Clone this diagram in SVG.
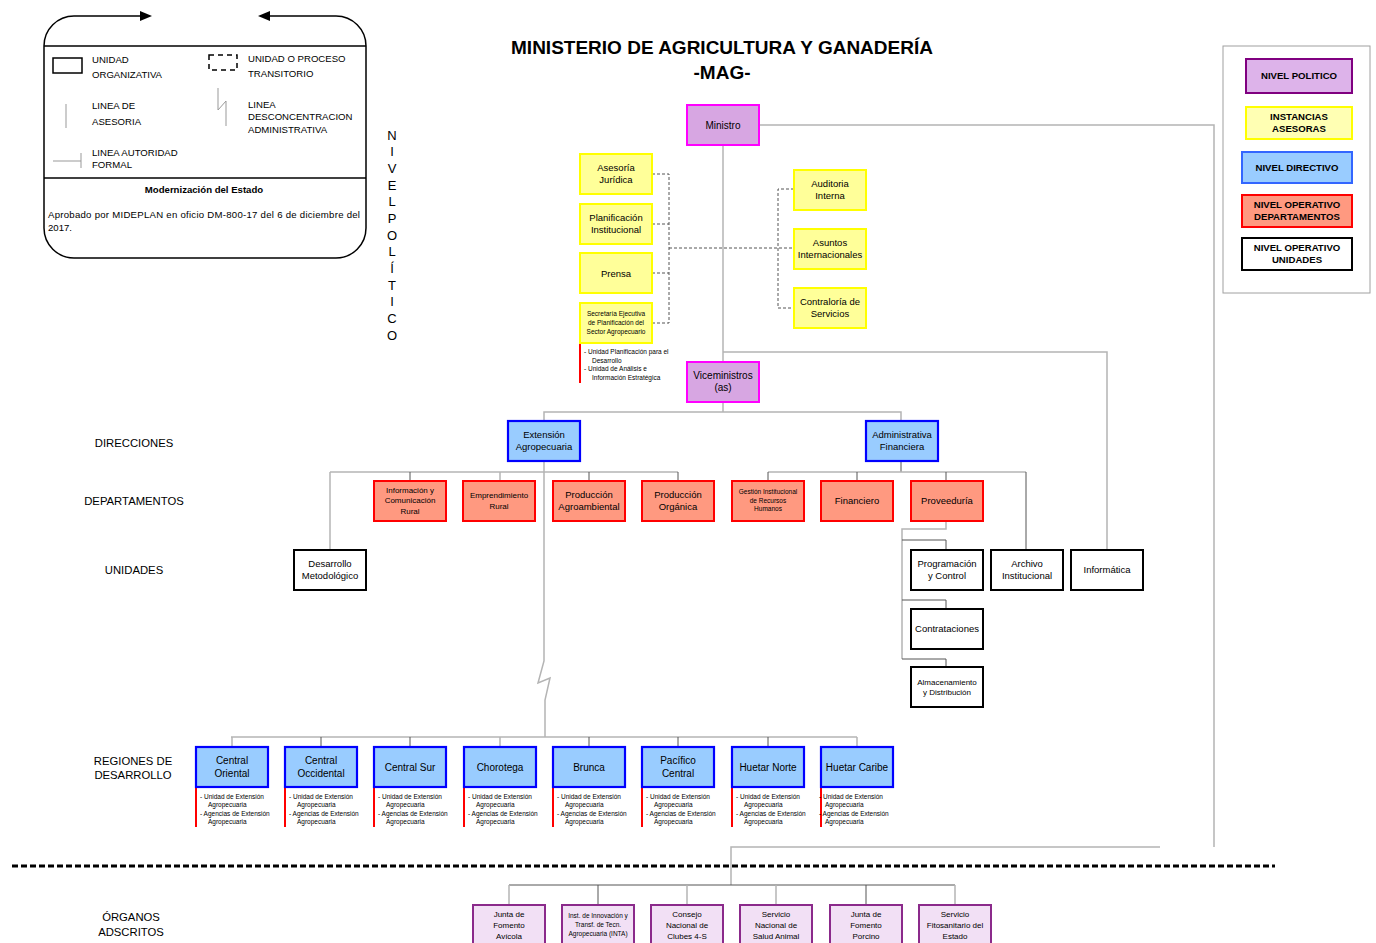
<svg xmlns="http://www.w3.org/2000/svg" width="1376" height="943" viewBox="0 0 1376 943">
<style>
text{font-family:"Liberation Sans",Arial,sans-serif;fill:#000}
.m{text-anchor:middle}
.pol{fill:#D7A6E2;stroke:#FF00FF;stroke-width:2}
.yel{fill:#FFFF99;stroke:#FFFF00;stroke-width:2}
.dir{fill:#99CCFF;stroke:#0000FF;stroke-width:2.2}
.dep{fill:#FF9980;stroke:#FF0000;stroke-width:2}
.uni{fill:#FFFFFF;stroke:#000;stroke-width:2}
.ads{fill:#F2E0F5;stroke:#8B2A8B;stroke-width:2}
.cl{fill:none;stroke:#B4B4B4;stroke-width:1.5}
.cd{fill:none;stroke:#555;stroke-width:1}
.ds{fill:none;stroke:#555;stroke-width:1;stroke-dasharray:3,2}
.red{stroke:#FF0000;stroke-width:2}
.f10{font-size:10px}
.f95{font-size:9.6px}
.f9{font-size:9.5px}
.f8{font-size:8px}
.f6{font-size:6.5px}
.lb{font-size:11.3px}
.lg{font-size:9.6px;font-weight:bold}
</style>

<!-- Legend top-left -->
<g id="legend-left">
<path d="M44,46 L44,228 A30,30 0 0 0 74,258 L336,258 A30,30 0 0 0 366,228 L366,46" fill="none" stroke="#000" stroke-width="1.5"/>
<path d="M44,46 A30,30 0 0 1 74,16 L146,16" fill="none" stroke="#000" stroke-width="1.5"/>
<path d="M262,16 L336,16 A30,30 0 0 1 366,46" fill="none" stroke="#000" stroke-width="1.5"/>
<polygon points="140,11 152,16 140,21" fill="#000"/>
<polygon points="270,11 258,16 270,21" fill="#000"/>
<line x1="44" y1="46" x2="366" y2="46" stroke="#000" stroke-width="1.5"/>
<line x1="44" y1="178" x2="366" y2="178" stroke="#000" stroke-width="1.5"/>
<rect x="53" y="58" width="29" height="15" fill="none" stroke="#000" stroke-width="1.5"/>
<rect x="209" y="55" width="28" height="15" fill="none" stroke="#000" stroke-width="1.5" stroke-dasharray="5,4"/>
<line x1="66" y1="104" x2="66" y2="128" stroke="#999" stroke-width="1"/>
<path d="M218,88 V110 L226,101 V126" fill="none" stroke="#999" stroke-width="1"/>
<line x1="53" y1="161" x2="81" y2="161" stroke="#999" stroke-width="1"/>
<line x1="81" y1="153" x2="81" y2="168" stroke="#999" stroke-width="1"/>
<text class="f95" x="92" y="63">UNIDAD</text>
<text class="f95" x="92" y="78">ORGANIZATIVA</text>
<text class="f95" x="248" y="62">UNIDAD O PROCESO</text>
<text class="f95" x="248" y="77">TRANSITORIO</text>
<text class="f95" x="92" y="109">LINEA DE</text>
<text class="f95" x="92" y="125">ASESORIA</text>
<text class="f95" x="248" y="108">LINEA</text>
<text class="f95" x="248" y="120">DESCONCENTRACION</text>
<text class="f95" x="248" y="133">ADMINISTRATIVA</text>
<text class="f95" x="92" y="156">LINEA AUTORIDAD</text>
<text class="f95" x="92" y="168">FORMAL</text>
<text class="m" x="204" y="193" font-size="9.6" font-weight="bold">Modernización del Estado</text>
<text x="48" y="218" font-size="9.6" textLength="312" lengthAdjust="spacing">Aprobado por MIDEPLAN en oficio DM-800-17 del 6 de diciembre del</text>
<text x="48" y="231" font-size="9.6">2017.</text>
</g>

<!-- Title -->
<g id="title">
<text class="m" x="722" y="54" font-size="19" font-weight="bold">MINISTERIO DE AGRICULTURA Y GANADERÍA</text>
<text class="m" x="722" y="79" font-size="19" font-weight="bold">-MAG-</text>
</g>

<g id="nivel-politico" font-size="13">
<text class="m" x="392" y="140">N</text>
<text class="m" x="392" y="156">I</text>
<text class="m" x="392" y="173">V</text>
<text class="m" x="392" y="190">E</text>
<text class="m" x="392" y="206">L</text>
<text class="m" x="392" y="223">P</text>
<text class="m" x="392" y="240">O</text>
<text class="m" x="392" y="256">L</text>
<text class="m" x="392" y="273">Í</text>
<text class="m" x="392" y="290">T</text>
<text class="m" x="392" y="306">I</text>
<text class="m" x="392" y="323">C</text>
<text class="m" x="392" y="340">O</text>
</g>

<!-- Left side labels -->
<g id="row-labels">
<text class="m lb" x="134" y="447">DIRECCIONES</text>
<text class="m lb" x="134" y="505">DEPARTAMENTOS</text>
<text class="m lb" x="134" y="574">UNIDADES</text>
<text class="m lb" x="133" y="765">REGIONES DE</text>
<text class="m lb" x="133" y="779">DESARROLLO</text>
<text class="m lb" x="131" y="921">ÓRGANOS</text>
<text class="m lb" x="131" y="936">ADSCRITOS</text>
</g>

<!-- Legend right -->
<g id="legend-right">
<rect x="1223" y="46" width="147" height="247" fill="#fff" stroke="#A0A0A0" stroke-width="1"/>
<rect x="1246" y="59" width="106" height="34" fill="#DDB3EA" stroke="#800080" stroke-width="2"/>
<text class="m lg" x="1299" y="79">NIVEL POLITICO</text>
<rect x="1246" y="107" width="106" height="32" fill="#FFFFB3" stroke="#FFFF00" stroke-width="2"/>
<text class="m lg" x="1299" y="120">INSTANCIAS</text>
<text class="m lg" x="1299" y="132">ASESORAS</text>
<rect x="1242" y="152" width="110" height="31" fill="#99CCFF" stroke="#3366FF" stroke-width="2"/>
<text class="m lg" x="1297" y="171">NIVEL DIRECTIVO</text>
<rect x="1242" y="195" width="110" height="32" fill="#FF9980" stroke="#FF0000" stroke-width="2"/>
<text class="m lg" x="1297" y="208">NIVEL OPERATIVO</text>
<text class="m lg" x="1297" y="220">DEPARTAMENTOS</text>
<rect x="1242" y="238" width="110" height="32" fill="#fff" stroke="#000" stroke-width="2"/>
<text class="m lg" x="1297" y="251">NIVEL OPERATIVO</text>
<text class="m lg" x="1297" y="263">UNIDADES</text>
</g>

<!-- Connectors -->
<g id="connectors">
<polyline class="cl" points="759,125 1214,125 1214,847"/>
<line class="cl" x1="723" y1="145" x2="723" y2="362"/>
<polyline class="cl" points="723,352 1107,352 1107,550"/>
<polyline class="ds" points="652,174 669,174 669,323 652,323"/>
<line class="ds" x1="652" y1="224" x2="669" y2="224"/>
<line class="ds" x1="652" y1="273" x2="669" y2="273"/>
<line class="ds" x1="669" y1="248" x2="794" y2="248"/>
<polyline class="ds" points="794,189 778,189 778,308 794,308"/>
<line class="cl" x1="723" y1="402" x2="723" y2="412"/>
<polyline class="cl" points="544,421 544,412 901,412 901,421"/>
<line class="cl" x1="544" y1="461" x2="544" y2="472"/>
<line class="cl" x1="330" y1="472" x2="678" y2="472"/>
<line class="cl" x1="330" y1="472" x2="330" y2="550"/>
<line class="cd" x1="410" y1="472" x2="410" y2="481"/>
<line class="cl" x1="500" y1="472" x2="500" y2="481"/>
<line class="cd" x1="589" y1="472" x2="589" y2="481"/>
<line class="cd" x1="678" y1="472" x2="678" y2="481"/>
<path class="cl" d="M544,472 V661 L538,683 L550,678 L545,700 V737"/>
<line class="cd" x1="901" y1="461" x2="901" y2="472"/>
<line class="cl" x1="768" y1="472" x2="1026" y2="472"/>
<line class="cd" x1="768" y1="472" x2="768" y2="481"/>
<line class="cd" x1="857" y1="472" x2="857" y2="481"/>
<line class="cd" x1="946" y1="472" x2="946" y2="481"/>
<line class="cd" x1="1026" y1="472" x2="1026" y2="550"/>
<polyline class="cl" points="946,521 946,529 902,529 902,659"/>
<polyline class="cd" points="902,540 946,540 946,550"/>
<polyline class="cd" points="902,600 946,600 946,609"/>
<polyline class="cd" points="902,659 946,659 946,667"/>
<line class="cl" x1="231" y1="737" x2="857" y2="737"/>
<line class="cl" x1="232" y1="737" x2="232" y2="747"/>
<line class="cd" x1="321" y1="737" x2="321" y2="747"/>
<line class="cd" x1="410" y1="737" x2="410" y2="747"/>
<line class="cl" x1="500" y1="737" x2="500" y2="747"/>
<line class="cd" x1="589" y1="737" x2="589" y2="747"/>
<line class="cd" x1="678" y1="737" x2="678" y2="747"/>
<line class="cd" x1="768" y1="737" x2="768" y2="747"/>
<line class="cl" x1="857" y1="737" x2="857" y2="747"/>
<polyline class="cl" points="1160,847 731,847 731,885"/>
<line class="cd" x1="509" y1="885" x2="955" y2="885"/>
<line class="cl" x1="509" y1="885" x2="509" y2="905"/>
<line class="cd" x1="598" y1="885" x2="598" y2="905"/>
<line class="cl" x1="687" y1="885" x2="687" y2="905"/>
<line class="cl" x1="776" y1="885" x2="776" y2="905"/>
<line class="cd" x1="866" y1="885" x2="866" y2="905"/>
<line class="cl" x1="955" y1="885" x2="955" y2="905"/>
<line class="red" x1="580" y1="323" x2="580" y2="383"/>
<line class="red" x1="196" y1="767" x2="196" y2="827"/>
<line class="red" x1="285" y1="767" x2="285" y2="827"/>
<line class="red" x1="374" y1="767" x2="374" y2="827"/>
<line class="red" x1="464" y1="767" x2="464" y2="827"/>
<line class="red" x1="553" y1="767" x2="553" y2="827"/>
<line class="red" x1="642" y1="767" x2="642" y2="827"/>
<line class="red" x1="732" y1="767" x2="732" y2="827"/>
<line class="red" x1="821" y1="767" x2="821" y2="827"/>
<line x1="12" y1="866" x2="1275" y2="866" stroke="#000" stroke-width="3" stroke-dasharray="6,3"/>
</g>

<g id="ministro"><rect class="pol" x="687" y="105" width="72" height="40"/><text class="m f10" x="723" y="129">Ministro</text></g>
<g id="viceministros"><rect class="pol" x="687" y="362" width="72" height="40"/><text class="m f10" x="723" y="379">Viceministros</text><text class="m f10" x="723" y="391">(as)</text></g>

<g id="asesoria-juridica"><rect class="yel" x="580" y="154" width="72" height="40"/><text class="m f9" x="616" y="171">Asesoría</text><text class="m f9" x="616" y="183">Jurídica</text></g>
<g id="planificacion"><rect class="yel" x="580" y="204" width="72" height="40"/><text class="m f9" x="616" y="221">Planificación</text><text class="m f9" x="616" y="233">Institucional</text></g>
<g id="prensa"><rect class="yel" x="580" y="253" width="72" height="40"/><text class="m f9" x="616" y="277">Prensa</text></g>
<g id="sepsa"><rect class="yel" x="580" y="303" width="72" height="40"/><text class="m f6" x="616" y="316">Secretaría Ejecutiva</text><text class="m f6" x="616" y="325">de Planificación del</text><text class="m f6" x="616" y="334">Sector Agropecuario</text>
<text class="f6" x="584" y="354">- Unidad Planificación para el</text><text class="f6" x="592" y="363">Desarrollo</text><text class="f6" x="584" y="371">- Unidad de Análisis e</text><text class="f6" x="592" y="380">Información Estratégica</text></g>
<g id="auditoria"><rect class="yel" x="794" y="170" width="72" height="40"/><text class="m f9" x="830" y="187">Auditoria</text><text class="m f9" x="830" y="199">Interna</text></g>
<g id="asuntos-internacionales"><rect class="yel" x="794" y="229" width="72" height="40"/><text class="m f9" x="830" y="246">Asuntos</text><text class="m f9" x="830" y="258">Internacionales</text></g>
<g id="contraloria"><rect class="yel" x="794" y="288" width="72" height="40"/><text class="m f9" x="830" y="305">Contraloría de</text><text class="m f9" x="830" y="317">Servicios</text></g>

<g id="extension"><rect class="dir" x="508" y="421" width="72" height="40"/><text class="m f9" x="544" y="438">Extensión</text><text class="m f9" x="544" y="450">Agropecuaria</text></g>
<g id="administrativa"><rect class="dir" x="866" y="421" width="72" height="40"/><text class="m f9" x="902" y="438">Administrativa</text><text class="m f9" x="902" y="450">Financiera</text></g>

<g id="info-comunicacion"><rect class="dep" x="374" y="481" width="72" height="40"/><text class="m f8" x="410" y="493">Información y</text><text class="m f8" x="410" y="503">Comunicación</text><text class="m f8" x="410" y="514">Rural</text></g>
<g id="emprendimiento"><rect class="dep" x="463" y="481" width="72" height="40"/><text class="m f8" x="499" y="498">Emprendimiento</text><text class="m f8" x="499" y="509">Rural</text></g>
<g id="agroambiental"><rect class="dep" x="553" y="481" width="72" height="40"/><text class="m f9" x="589" y="498">Producción</text><text class="m f9" x="589" y="510">Agroambiental</text></g>
<g id="organica"><rect class="dep" x="642" y="481" width="72" height="40"/><text class="m f9" x="678" y="498">Producción</text><text class="m f9" x="678" y="510">Orgánica</text></g>
<g id="recursos-humanos"><rect class="dep" x="732" y="481" width="72" height="40"/><text class="m f6" x="768" y="494">Gestión Institucional</text><text class="m f6" x="768" y="503">de Recursos</text><text class="m f6" x="768" y="511">Humanos</text></g>
<g id="financiero"><rect class="dep" x="821" y="481" width="72" height="40"/><text class="m f9" x="857" y="504">Financiero</text></g>
<g id="proveeduria"><rect class="dep" x="911" y="481" width="72" height="40"/><text class="m f9" x="947" y="504">Proveeduría</text></g>

<g id="desarrollo-metodologico"><rect class="uni" x="294" y="550" width="72" height="40"/><text class="m f9" x="330" y="567">Desarrollo</text><text class="m f9" x="330" y="579">Metodológico</text></g>
<g id="programacion-control"><rect class="uni" x="911" y="550" width="72" height="40"/><text class="m f9" x="947" y="567">Programación</text><text class="m f9" x="947" y="579">y Control</text></g>
<g id="archivo"><rect class="uni" x="991" y="550" width="72" height="40"/><text class="m f9" x="1027" y="567">Archivo</text><text class="m f9" x="1027" y="579">Institucional</text></g>
<g id="informatica"><rect class="uni" x="1071" y="550" width="72" height="40"/><text class="m f9" x="1107" y="573">Informática</text></g>
<g id="contrataciones"><rect class="uni" x="911" y="609" width="72" height="40"/><text class="m f9" x="947" y="632">Contrataciones</text></g>
<g id="almacenamiento"><rect class="uni" x="911" y="667" width="72" height="40"/><text class="m f8" x="947" y="685">Almacenamiento</text><text class="m f8" x="947" y="695">y Distribución</text></g>

<g id="central-oriental"><rect class="dir" x="196" y="747" width="72" height="40"/><text class="m f10" x="232" y="764">Central</text><text class="m f10" x="232" y="777">Oriental</text>
<text class="f6" x="200" y="799">- Unidad de Extensión</text><text class="f6" x="208" y="807">Agropecuaria</text><text class="f6" x="200" y="816">- Agencias de Extensión</text><text class="f6" x="208" y="824">Agropecuaria</text></g>
<g id="central-occidental"><rect class="dir" x="285" y="747" width="72" height="40"/><text class="m f10" x="321" y="764">Central</text><text class="m f10" x="321" y="777">Occidental</text>
<text class="f6" x="289" y="799">- Unidad de Extensión</text><text class="f6" x="297" y="807">Agropecuaria</text><text class="f6" x="289" y="816">- Agencias de Extensión</text><text class="f6" x="297" y="824">Agropecuaria</text></g>
<g id="central-sur"><rect class="dir" x="374" y="747" width="72" height="40"/><text class="m f10" x="410" y="771">Central Sur</text>
<text class="f6" x="378" y="799">- Unidad de Extensión</text><text class="f6" x="386" y="807">Agropecuaria</text><text class="f6" x="378" y="816">- Agencias de Extensión</text><text class="f6" x="386" y="824">Agropecuaria</text></g>
<g id="chorotega"><rect class="dir" x="464" y="747" width="72" height="40"/><text class="m f10" x="500" y="771">Chorotega</text>
<text class="f6" x="468" y="799">- Unidad de Extensión</text><text class="f6" x="476" y="807">Agropecuaria</text><text class="f6" x="468" y="816">- Agencias de Extensión</text><text class="f6" x="476" y="824">Agropecuaria</text></g>
<g id="brunca"><rect class="dir" x="553" y="747" width="72" height="40"/><text class="m f10" x="589" y="771">Brunca</text>
<text class="f6" x="557" y="799">- Unidad de Extensión</text><text class="f6" x="565" y="807">Agropecuaria</text><text class="f6" x="557" y="816">- Agencias de Extensión</text><text class="f6" x="565" y="824">Agropecuaria</text></g>
<g id="pacifico-central"><rect class="dir" x="642" y="747" width="72" height="40"/><text class="m f10" x="678" y="764">Pacífico</text><text class="m f10" x="678" y="777">Central</text>
<text class="f6" x="646" y="799">- Unidad de Extensión</text><text class="f6" x="654" y="807">Agropecuaria</text><text class="f6" x="646" y="816">- Agencias de Extensión</text><text class="f6" x="654" y="824">Agropecuaria</text></g>
<g id="huetar-norte"><rect class="dir" x="732" y="747" width="72" height="40"/><text class="m f10" x="768" y="771">Huetar Norte</text>
<text class="f6" x="736" y="799">- Unidad de Extensión</text><text class="f6" x="744" y="807">Agropecuaria</text><text class="f6" x="736" y="816">- Agencias de Extensión</text><text class="f6" x="744" y="824">Agropecuaria</text></g>
<g id="huetar-caribe"><rect class="dir" x="821" y="747" width="72" height="40"/><text class="m f10" x="857" y="771">Huetar Caribe</text>
<text class="f6" x="819" y="799">- Unidad de Extensión</text><text class="f6" x="825" y="807">Agropecuaria</text><text class="f6" x="819" y="816">- Agencias de Extensión</text><text class="f6" x="825" y="824">Agropecuaria</text></g>

<g id="junta-avicola"><rect class="ads" x="473" y="905" width="72" height="45"/><text class="m f8" x="509" y="917">Junta de</text><text class="m f8" x="509" y="928">Fomento</text><text class="m f8" x="509" y="939">Avícola</text></g>
<g id="inta"><rect class="ads" x="562" y="905" width="72" height="45"/><text class="m f6" x="598" y="918">Inst. de Innovación y</text><text class="m f6" x="598" y="927">Transf. de Tecn.</text><text class="m f6" x="598" y="936">Agropecuaria (INTA)</text></g>
<g id="clubes-4s"><rect class="ads" x="651" y="905" width="72" height="45"/><text class="m f8" x="687" y="917">Consejo</text><text class="m f8" x="687" y="928">Nacional de</text><text class="m f8" x="687" y="939">Clubes 4-S</text></g>
<g id="senasa"><rect class="ads" x="740" y="905" width="72" height="45"/><text class="m f8" x="776" y="917">Servicio</text><text class="m f8" x="776" y="928">Nacional de</text><text class="m f8" x="776" y="939">Salud Animal</text></g>
<g id="junta-porcino"><rect class="ads" x="830" y="905" width="72" height="45"/><text class="m f8" x="866" y="917">Junta de</text><text class="m f8" x="866" y="928">Fomento</text><text class="m f8" x="866" y="939">Porcino</text></g>
<g id="sfe"><rect class="ads" x="919" y="905" width="72" height="45"/><text class="m f8" x="955" y="917">Servicio</text><text class="m f8" x="955" y="928">Fitosanitario del</text><text class="m f8" x="955" y="939">Estado</text></g>
</svg>
